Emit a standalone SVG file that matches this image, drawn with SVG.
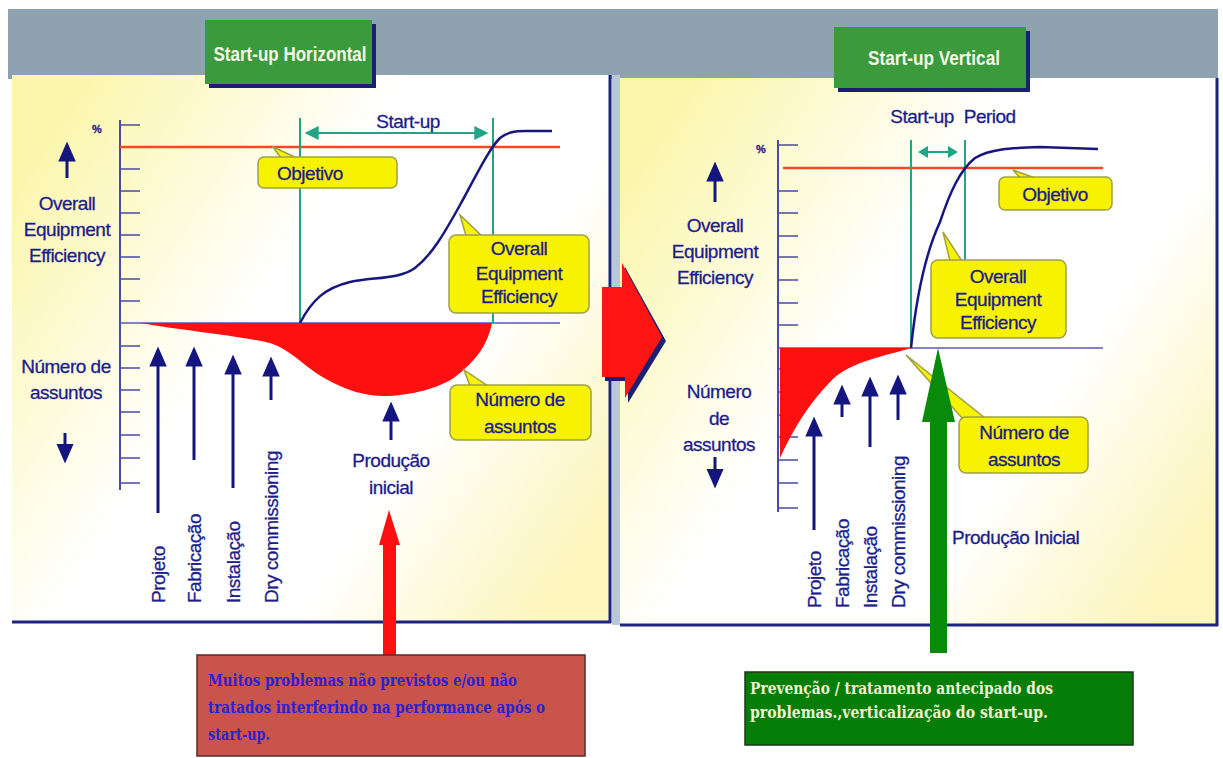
<svg xmlns="http://www.w3.org/2000/svg" width="1223" height="758" viewBox="0 0 1223 758">
<defs>
<linearGradient id="bg" x1="0" y1="0.2" x2="1" y2="0.8">
<stop offset="0" stop-color="#fbf6ac"/>
<stop offset="0.4" stop-color="#ffffff"/>
<stop offset="0.7" stop-color="#ffffff"/>
<stop offset="1" stop-color="#fcf5bc"/>
</linearGradient>
<marker id="nav" markerUnits="userSpaceOnUse" markerWidth="20" markerHeight="20" viewBox="0 -8 16 16" refX="2" refY="0" orient="auto">
<path d="M0,-7 L16,0 L0,7 Z" fill="#15157f"/>
</marker>
<marker id="tl" markerUnits="userSpaceOnUse" markerWidth="14" markerHeight="14" viewBox="0 -6 12 12" refX="10" refY="0" orient="auto-start-reverse">
<path d="M0,-6 L12,0 L0,6 Z" fill="#22a585"/>
</marker>
<marker id="tls" markerUnits="userSpaceOnUse" markerWidth="12" markerHeight="12" viewBox="0 -6 10 12" refX="8" refY="0" orient="auto-start-reverse">
<path d="M0,-6 L10,0 L0,6 Z" fill="#22a585"/>
</marker>
</defs>
<style>
.t{font-family:"Liberation Sans",Arial,sans-serif;font-size:19px;fill:#1c1c8c;stroke:#1c1c8c;stroke-width:0.3px;letter-spacing:-0.5px}
.c{text-anchor:middle}
.ax{stroke:#4a4aa8;stroke-width:2;fill:none}
.tk{stroke:#4a4aa8;stroke-width:1.6}
.zero{stroke:#5a5ab0;stroke-width:1.6}
.goal{stroke:#f04a25;stroke-width:2.5}
.teal{stroke:#22a585;stroke-width:2;fill:none}
.oee{stroke:#17177f;stroke-width:2.5;fill:none}
.nav{stroke:#15157f;stroke-width:3;fill:none;marker-end:url(#nav)}
.co{fill:#f7f200;stroke:#a0a048;stroke-width:1.5}
.area{fill:#ff1010}
.title{font-family:"Liberation Sans",Arial,sans-serif;font-size:20px;font-weight:bold;fill:#f4f6e6;text-anchor:middle}
.bx{font-family:"DejaVu Serif","Liberation Serif",serif;font-weight:bold;font-size:16px}
</style>
<rect x="0" y="0" width="1223" height="758" fill="#ffffff"/>
<g id="background">
<rect x="8" y="9" width="1210" height="70" fill="#8fa2af"/>
<rect x="12" y="75" width="598" height="547" fill="url(#bg)"/>
<rect x="612" y="75" width="8" height="550" fill="#b9c8d6"/>
<rect x="620" y="78" width="596" height="547" fill="url(#bg)"/>
<line x1="12" y1="622" x2="611" y2="622" stroke="#1c2480" stroke-width="3"/>
<line x1="610" y1="75" x2="610" y2="623" stroke="#1c2480" stroke-width="3"/>
<line x1="620" y1="625" x2="1218" y2="625" stroke="#1c2480" stroke-width="3"/>
<line x1="1217" y1="78" x2="1217" y2="626" stroke="#1c2480" stroke-width="3"/>
</g>
<g id="chart-left">
<line class="ax" x1="120" y1="120" x2="120" y2="490"/>
<path class="tk" d="M120,125h20M120,169h20M120,191h20M120,213h20M120,235h20M120,257h20M120,279h20M120,301h20M120,346h20M120,368h20M120,390h20M120,412h20M120,435h20M120,458h20M120,483h20"/>
<text class="t" x="92" y="133" style="font-size:11px;font-weight:bold">%</text>
<line class="goal" x1="120" y1="147" x2="560" y2="147"/>
<line class="zero" x1="120" y1="323" x2="560" y2="323"/>
<path class="area" d="M140,323 L492,323 C488,345 475,362 455,377 C440,388 410,396 383,396 C358,396 335,385 316,373 C300,362 290,350 270,343 C240,336 180,330 140,323 Z"/>
<line class="teal" x1="300" y1="118" x2="300" y2="323"/>
<line class="teal" x1="493" y1="118" x2="493" y2="323"/>
<path class="oee" d="M300,323 C312,300 325,288 350,282 C375,277 400,279 415,268 C432,255 445,232 460,205 C475,178 488,150 500,138 C508,132 515,131 525,131 L552,131"/>
</g>
<g id="chart-right">
<line class="ax" x1="778" y1="140" x2="778" y2="512"/>
<path class="tk" d="M778,145h20M778,191h20M778,213h20M778,236h20M778,257h20M778,280h20M778,303h20M778,325h20M778,369h20M778,392h20M778,415h20M778,437h20M778,460h20M778,483h20M778,508h20"/>
<text class="t" x="756" y="153" style="font-size:11px;font-weight:bold">%</text>
<line class="goal" x1="783" y1="168" x2="1103" y2="168"/>
<line class="zero" x1="778" y1="348" x2="1103" y2="348"/>
<path class="area" d="M780,348 L911,348 C885,356 850,362 832,380 C812,400 795,425 780,458 Z"/>
<line class="teal" x1="911" y1="140" x2="911" y2="348"/>
<line class="teal" x1="965" y1="140" x2="965" y2="260"/>
<path class="oee" d="M911,348 C916,300 926,252 940,222 C950,192 960,170 975,158 C990,149 1010,148 1040,147 L1098,149"/>
</g>
<g id="connectors">
<line class="teal" x1="307" y1="133" x2="486" y2="133" marker-start="url(#tl)" marker-end="url(#tl)"/>
<line class="teal" x1="920" y1="152" x2="956" y2="152" marker-start="url(#tls)" marker-end="url(#tls)"/>
<line class="nav" x1="67" y1="178" x2="67" y2="159"/>
<line class="nav" x1="65" y1="433" x2="65" y2="446"/>
<line class="nav" x1="158" y1="513" x2="158" y2="364"/>
<line class="nav" x1="194" y1="460" x2="194" y2="364"/>
<line class="nav" x1="233" y1="488" x2="233" y2="372"/>
<line class="nav" x1="271" y1="400" x2="271" y2="374"/>
<line class="nav" x1="391" y1="440" x2="391" y2="419"/>
<line class="nav" x1="715" y1="202" x2="715" y2="179"/>
<line class="nav" x1="715" y1="457" x2="715" y2="471"/>
<line class="nav" x1="814" y1="530" x2="814" y2="434"/>
<line class="nav" x1="842" y1="417" x2="842" y2="402"/>
<line class="nav" x1="870" y1="447" x2="870" y2="394"/>
<line class="nav" x1="898" y1="420" x2="898" y2="392"/>
<polygon points="383,545 383,655 396,655 396,545 400,545 389,510 379,545" fill="#ff1010"/>
<polygon id="mid-arrow-shadow" points="605,291 625,291 625,267 666,341 628,403 628,381 605,381" fill="#1c2070"/>
<polygon id="mid-arrow" points="602,287 622,287 622,263 662,337 625,398 625,377 602,377" fill="#ff1414"/>
<polygon points="906,355 962,418 985,418" class="co"/>
<polygon points="930,653 947,653 947,422 955,422 938,348 922,422 930,422" fill="#0a8a0a"/>
</g>
<g id="title-horizontal">
<rect x="209" y="24" width="167" height="64" fill="#1a2070"/>
<rect x="205" y="20" width="167" height="64" fill="#3b9a3b"/>
<text class="title" x="290" y="61" textLength="153" lengthAdjust="spacingAndGlyphs">Start-up Horizontal</text>
</g>
<g id="title-vertical">
<rect x="838" y="31" width="192" height="61" fill="#1a2070"/>
<rect x="834" y="27" width="192" height="61" fill="#3b9a3b"/>
<text class="title" x="934" y="65" textLength="132" lengthAdjust="spacingAndGlyphs">Start-up Vertical</text>
</g>
<g id="labels-left">
<text class="t c" x="408" y="128">Start-up</text>
<text class="t c" x="67" y="210">Overall</text>
<text class="t c" x="67" y="236">Equipment</text>
<text class="t c" x="67" y="262">Efficiency</text>
<text class="t c" x="66" y="373">Número de</text>
<text class="t c" x="66" y="399">assuntos</text>
<text class="t c" x="391" y="467">Produção</text>
<text class="t c" x="391" y="494">inicial</text>
<text class="t" transform="translate(165,603) rotate(-90)">Projeto</text>
<text class="t" transform="translate(201,603) rotate(-90)">Fabricação</text>
<text class="t" transform="translate(240,603) rotate(-90)">Instalação</text>
<text class="t" transform="translate(278,603) rotate(-90)">Dry commissioning</text>
</g>
<g id="labels-right">
<text class="t c" x="953" y="123" style="word-spacing:5px">Start-up Period</text>
<text class="t c" x="715" y="232">Overall</text>
<text class="t c" x="715" y="258">Equipment</text>
<text class="t c" x="715" y="284">Efficiency</text>
<text class="t c" x="719" y="398">Número</text>
<text class="t c" x="719" y="425">de</text>
<text class="t c" x="719" y="451">assuntos</text>
<text class="t" transform="translate(821,608) rotate(-90)">Projeto</text>
<text class="t" transform="translate(849,608) rotate(-90)">Fabricação</text>
<text class="t" transform="translate(877,608) rotate(-90)">Instalação</text>
<text class="t" transform="translate(905,608) rotate(-90)">Dry commissioning</text>
<text class="t" x="952" y="544">Produção Inicial</text>
</g>
<g id="callout-objetivo-left">
<polygon class="co" points="273,147 281,158 297,158"/>
<rect class="co" x="258" y="157" width="139" height="31" rx="6"/>
<text class="t" x="277" y="180">Objetivo</text>
</g>
<g id="callout-oee-left">
<polygon class="co" points="460,215 466,236 482,236"/>
<rect class="co" x="449" y="235" width="140" height="78" rx="7"/>
<text class="t c" x="519" y="255">Overall</text>
<text class="t c" x="519" y="280">Equipment</text>
<text class="t c" x="519" y="303">Efficiency</text>
</g>
<g id="callout-num-left">
<polygon class="co" points="464,370 470,386 488,386"/>
<rect class="co" x="450" y="385" width="141" height="55" rx="7"/>
<text class="t c" x="520" y="406">Número de</text>
<text class="t c" x="520" y="433">assuntos</text>
</g>
<g id="callout-objetivo-right">
<polygon class="co" points="1013,170 1020,178 1035,178"/>
<rect class="co" x="999" y="177" width="113" height="33" rx="6"/>
<text class="t c" x="1055" y="201">Objetivo</text>
</g>
<g id="callout-oee-right">
<polygon class="co" points="943,232 950,261 962,261"/>
<rect class="co" x="931" y="260" width="135" height="78" rx="7"/>
<text class="t c" x="998" y="283">Overall</text>
<text class="t c" x="998" y="306">Equipment</text>
<text class="t c" x="998" y="329">Efficiency</text>
</g>
<g id="callout-num-right">
<rect class="co" x="959" y="417" width="129" height="56" rx="7"/>
<text class="t c" x="1024" y="439">Número de</text>
<text class="t c" x="1024" y="466">assuntos</text>
</g>
<g id="box-red">
<rect x="197" y="655" width="388" height="101" fill="#c9544b" stroke="#5e2a2a" stroke-width="1.5"/>
<text class="bx" fill="#2a22d4" x="208" y="686" textLength="309" lengthAdjust="spacingAndGlyphs">Muitos problemas não previstos e/ou não</text>
<text class="bx" fill="#2a22d4" x="208" y="713" textLength="337" lengthAdjust="spacingAndGlyphs">tratados interferindo na performance após o</text>
<text class="bx" fill="#2a22d4" x="208" y="740" textLength="62" lengthAdjust="spacingAndGlyphs">start-up.</text>
</g>
<g id="box-green">
<rect x="745" y="672" width="388" height="73" fill="#067d06" stroke="#1a3a1a" stroke-width="1.5"/>
<text class="bx" fill="#eef2d2" x="750" y="694" textLength="303" lengthAdjust="spacingAndGlyphs">Prevenção / tratamento antecipado dos</text>
<text class="bx" fill="#eef2d2" x="750" y="718" textLength="298" lengthAdjust="spacingAndGlyphs">problemas.,verticalização do start-up.</text>
</g>
</svg>
